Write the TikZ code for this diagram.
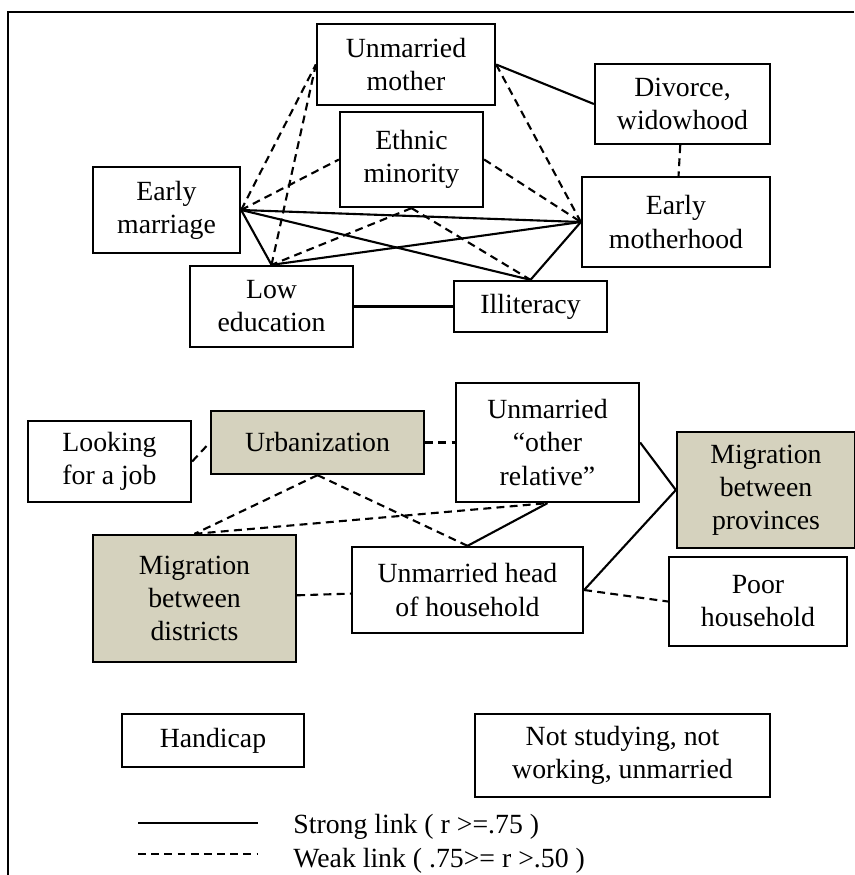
\documentclass[tikz,border=0pt]{standalone}
\usepackage{fontspec}
\setmainfont{Liberation Serif}
\usetikzlibrary{positioning}
\definecolor{boxfill}{RGB}{213,210,190}

\begin{document}
\begin{tikzpicture}[
  block/.style={rectangle, draw, line width=1.3pt, align=center, inner sep=2pt},
  hiblock/.style={block, fill=boxfill},
  strong/.style={line width=1.2pt},
  weak/.style={line width=1.2pt, dash pattern=on 4.5pt off 3pt},
  font=\fontsize{15.8}{18.8}\selectfont
]
\useasboundingbox (0,0) rectangle (17.08,-17.5);
\draw[line width=1.3pt] (17.08,-0.24) -- (0.16,-0.24) -- (0.16,-17.5);

% upper group
\node[block, minimum width=2.94cm, minimum height=1.72cm] (marriage) at (3.33,-4.2) {Early\\marriage};
\node[block, below of=marriage, node distance=1.93cm, xshift=2.1cm, minimum width=3.26cm, minimum height=1.62cm] (lowedu) {Low\\education};
\node[block, right of=lowedu, node distance=5.18cm, minimum width=3.06cm, minimum height=1.02cm] (illit) {Illiteracy};
\node[block, right of=marriage, node distance=4.9cm, yshift=1.01cm, minimum width=2.86cm, minimum height=1.9cm] (ethnic) {Ethnic\\minority};
\node[block, above of=ethnic, node distance=1.9cm, xshift=-0.11cm, minimum width=3.56cm, minimum height=1.62cm] (mother) {Unmarried\\mother};
\node[block, right of=marriage, node distance=10.19cm, yshift=-0.24cm, minimum width=3.76cm, minimum height=1.8cm] (motherhood) {Early\\motherhood};
\node[block, above of=motherhood, node distance=2.36cm, xshift=0.13cm, minimum width=3.5cm, minimum height=1.6cm] (divorce) {Divorce,\\widowhood};

% middle group
\node[hiblock, below of=lowedu, node distance=2.72cm, xshift=0.92cm, minimum width=4.26cm, minimum height=1.26cm] (urban) {Urbanization};
\node[block, left of=urban, node distance=4.16cm, yshift=-0.38cm, minimum width=3.26cm, minimum height=1.62cm] (job) {Looking\\for a job};
\node[block, right of=urban, node distance=4.6cm, minimum width=3.66cm, minimum height=2.38cm] (relative) {Unmarried\\“other\\relative”};
\node[block, below of=relative, node distance=2.95cm, xshift=-1.6cm, minimum width=4.62cm, minimum height=1.72cm] (head) {Unmarried head\\of household};
\node[hiblock, left of=head, node distance=5.46cm, yshift=-0.17cm, minimum width=4.06cm, minimum height=2.54cm] (districts) {Migration\\between\\districts};
\node[hiblock, right of=relative, node distance=4.37cm, yshift=-0.95cm, minimum width=3.56cm, minimum height=2.32cm] (provinces) {Migration\\between\\provinces};
\node[block, right of=head, node distance=5.81cm, yshift=-0.23cm, minimum width=3.56cm, minimum height=1.78cm] (poor) {Poor\\household};

% unlinked
\node[block, below of=districts, node distance=2.84cm, xshift=0.37cm, minimum width=3.64cm, minimum height=1.06cm] (handicap) {Handicap};
\node[block, right of=handicap, node distance=8.19cm, yshift=-0.3cm, minimum width=5.9cm, minimum height=1.66cm] (notstudy) {Not studying, not\\working, unmarried};

% legend
\coordinate (sa) at (2.76,-16.46);
\coordinate (sb) at (5.16,-16.46);
\coordinate (wa) at (2.76,-17.08);
\coordinate (wb) at (5.16,-17.08);
\node[anchor=base west, inner sep=0pt] (strongtxt) at (5.86,-16.66) {Strong link ( r >=.75 )};
\node[anchor=base west, inner sep=0pt] (weaktxt) at (5.86,-17.34) {Weak link ( .75>= r >.50 )};

\draw[strong] (mother.east) -- (divorce.west);
\draw[weak] (mother.east) -- (motherhood.west);
\draw[weak] (marriage.east) -- (mother.west);
\draw[weak] (lowedu.north) -- (mother.west);
\draw[weak] (marriage.east) -- (ethnic.west);
\draw[weak] (ethnic.east) -- (motherhood.west);
\draw[weak] (ethnic.south) -- (lowedu.north);
\draw[weak] (ethnic.south) -- (illit.north);
\draw[strong] (marriage.east) -- (motherhood.west);
\draw[strong] (marriage.east) -- (illit.north);
\draw[strong] (marriage.east) -- (lowedu.north);
\draw[strong] (lowedu.north) -- (motherhood.west);
\draw[strong] (illit.north) -- (motherhood.west);
\draw[strong] (lowedu) -- (illit);
\draw[weak] (divorce) -- (motherhood);

\draw[weak] (job.east) -- (urban.west);
\draw[weak] (urban) -- (relative);
\draw[weak] (urban.south) -- (districts.north);
\draw[weak] (urban.south) -- (head.north);
\draw[weak] (districts.north) -- (relative.south);
\draw[strong] (relative.south) -- (head.north);
\draw[strong] (relative.east) -- (provinces.west);
\draw[strong] (head.east) -- (provinces.west);
\draw[weak] (head.east) -- (poor.west);
\draw[weak] (districts) -- (head);

\draw[strong] (sa) -- (sb);
\draw[weak] (wa) -- (wb);
\end{tikzpicture}
\end{document}
